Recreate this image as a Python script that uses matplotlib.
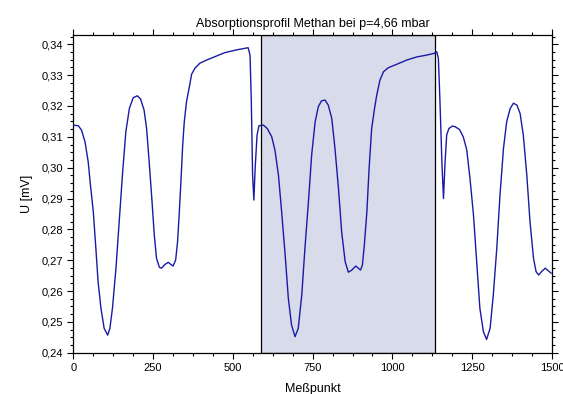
import matplotlib.pyplot as plt
from matplotlib.ticker import MultipleLocator, FuncFormatter

# Messpunkt / Spannung
messpunkt = [0, 16, 26, 37, 47, 54, 63, 71, 78, 87, 97, 108, 115, 123, 134,
             144, 155, 165, 176, 188, 201, 211, 222, 230, 238, 247, 254, 261,
             270, 277, 287, 298, 305, 313, 321, 327, 332, 338, 343, 348, 355,
             363, 371, 381, 397, 418, 444, 475, 512, 538, 548, 554, 558, 562,
             566, 570, 576, 582, 596, 608, 622, 632, 643, 653, 664, 674, 684,
             695, 705, 716, 726, 737, 747, 758, 768, 778, 789, 799, 810, 820,
             831, 841, 852, 862, 873, 885, 891, 900, 906, 912, 920, 927, 935,
             944, 951, 961, 972, 987, 1013, 1045, 1076, 1107, 1132, 1139, 1144,
             1149, 1155, 1160, 1165, 1170, 1177, 1188, 1196, 1210, 1222, 1233,
             1243, 1254, 1264, 1274, 1285, 1295, 1306, 1316, 1327, 1337, 1348,
             1358, 1369, 1379, 1390, 1400, 1410, 1421, 1431, 1442, 1450, 1458,
             1469, 1479, 1489, 1497]
spannung = [0.3138, 0.3136, 0.3122, 0.3084, 0.3019, 0.2944, 0.2857, 0.2739,
            0.2630, 0.2544, 0.2479, 0.2457, 0.2479, 0.2544, 0.2674, 0.2825,
            0.2987, 0.3117, 0.3192, 0.3227, 0.3233, 0.3223, 0.3187, 0.3127,
            0.3019, 0.2890, 0.2782, 0.2706, 0.2677, 0.2674, 0.2686, 0.2693,
            0.2687, 0.2681, 0.2701, 0.2760, 0.2847, 0.2965, 0.3073, 0.3149,
            0.3214, 0.3257, 0.3303, 0.3322, 0.3339, 0.3349, 0.3360, 0.3373,
            0.3382, 0.3387, 0.3389, 0.3365, 0.3214, 0.2976, 0.2895, 0.2998,
            0.3106, 0.3136, 0.3138, 0.3127, 0.3100, 0.3057, 0.2976, 0.2857,
            0.2717, 0.2576, 0.2490, 0.2452, 0.2479, 0.2587, 0.2739, 0.2890,
            0.3041, 0.3149, 0.3198, 0.3217, 0.3219, 0.3203, 0.3160, 0.3063,
            0.2933, 0.2792, 0.2695, 0.2661, 0.2668, 0.2681, 0.2676, 0.2668,
            0.2684, 0.2749, 0.2857, 0.2998, 0.3127, 0.3192, 0.3236, 0.3284,
            0.3311, 0.3324, 0.3335, 0.3349, 0.3359, 0.3365, 0.3371, 0.3376,
            0.3354, 0.3214, 0.3019, 0.2900, 0.3019, 0.3106, 0.3127, 0.3135,
            0.3133, 0.3124, 0.3100, 0.3057, 0.2965, 0.2846, 0.2695, 0.2544,
            0.2468, 0.2443, 0.2479, 0.2587, 0.2739, 0.2911, 0.3063, 0.3149,
            0.3192, 0.3209, 0.3203, 0.3176, 0.3106, 0.2976, 0.2825, 0.2706,
            0.2663, 0.2652, 0.2665, 0.2674, 0.2665, 0.2658]

bereich = (587, 1133)

plt.rcParams['font.family'] = ['Liberation Sans', 'DejaVu Sans']

fig = plt.figure(figsize=(5.63, 3.94), dpi=100)
ax = fig.add_axes([0.130, 0.1048, 0.8505, 0.8062])

ax.axvspan(bereich[0], bereich[1], facecolor='#d8dbea', edgecolor='black',
           linewidth=0.9, zorder=1)
ax.plot(messpunkt, spannung, color='#1a1aa6', linewidth=1.0, zorder=3)

ax.set_xlim(0, 1500)
ax.set_ylim(0.24, 0.343)

ax.xaxis.set_major_locator(MultipleLocator(250))
ax.xaxis.set_minor_locator(MultipleLocator(62.5))
ax.yaxis.set_major_locator(MultipleLocator(0.01))
ax.yaxis.set_minor_locator(MultipleLocator(0.0025))
ax.yaxis.set_major_formatter(FuncFormatter(lambda v, p: f"{v:.2f}".replace('.', ',')))

ax.tick_params(which='both', direction='out', top=True, right=True,
               labelsize=8, width=0.8)
ax.tick_params(which='major', length=4)
ax.tick_params(which='minor', length=2)
for s in ax.spines.values():
    s.set_linewidth(0.9)

ax.set_title("Absorptionsprofil Methan bei p=4,66 mbar", fontsize=9, pad=6)
ax.set_xlabel("Meßpunkt", fontsize=9, labelpad=7)
ax.set_ylabel("U [mV]", fontsize=9, labelpad=6)

fig.savefig("out.png", dpi=100)
